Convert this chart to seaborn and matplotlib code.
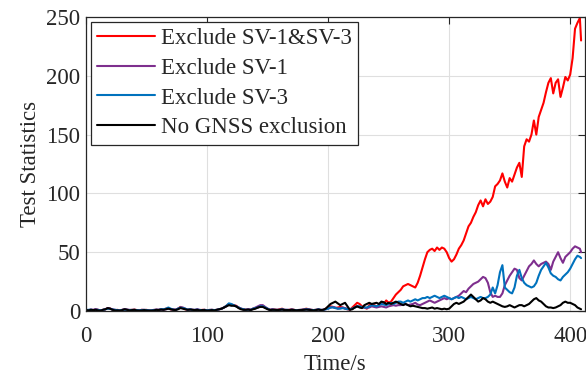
import numpy as np
import pandas as pd
import matplotlib
matplotlib.use("Agg")
import matplotlib.pyplot as plt
import seaborn as sns

time_s = np.r_[np.arange(0, 410, 2), 409]

excl_sv1_sv3 = [
    1, 0.5, 1, 0.8, 1.5, 1, 0.5, 1, 1.5, 2.5,
    2, 1, 0.5, 1, 0.5, 1, 1.5, 1, 0.8, 1,
    1.2, 0.8, 0.5, 1, 0.8, 1, 0.5, 0.3, 0.8, 1,
    1, 1.5, 1.2, 2, 2.5, 1.5, 1, 1.2, 2, 3.5,
    2.5, 1.5, 1, 1.5, 1, 0.8, 1.2, 0.5, 1, 1,
    0.5, 0.8, 1, 0.5, 1, 1.5, 2, 3, 4.5, 6,
    5.5, 5, 4.5, 3, 2, 1.5, 1, 1.5, 1, 2,
    2.5, 3, 4, 4.5, 3, 2, 1, 1.5, 1.2, 1,
    1.5, 2, 1, 0.8, 1, 1.5, 1, 0.5, 0.8, 1,
    1.5, 2, 1.5, 1, 0.8, 1, 1.5, 0.8, 1, 2,
    3, 4, 3.5, 2.5, 3, 3.5, 3, 2, 1.5, 1,
    3, 5, 7, 6, 4, 3, 2, 5, 6, 5,
    4, 5, 7, 6, 9, 7, 8, 11, 14, 16,
    18, 21, 22, 23, 22, 21, 20, 24, 30, 37,
    44, 50, 52, 53, 51, 54, 52, 54, 53, 50,
    45, 42, 44, 48, 53, 56, 60, 66, 72, 75,
    80, 84, 90, 94, 89, 95, 91, 93, 97, 106,
    108, 111, 117, 110, 105, 113, 110, 116, 122, 126,
    114, 140, 146, 144, 150, 162, 150, 165, 171, 177,
    186, 194, 198, 185, 194, 197, 182, 190, 199, 196,
    201, 215, 240, 245, 249, 230,
]

excl_sv1 = [
    1, 0.8, 1.2, 1, 1.5, 1, 0.5, 1, 1.5, 2.5,
    2, 1.5, 1, 0.8, 0.5, 1, 1.5, 1.2, 1, 0.8,
    1, 0.8, 0.5, 1, 1, 0.8, 0.5, 0.5, 1, 1.2,
    1, 1.5, 1, 1.5, 2, 1.5, 1.5, 1, 2, 3,
    3, 2, 1, 1.5, 1, 1, 1.5, 1, 0.8, 1,
    0.5, 1, 1, 0.8, 1, 1.5, 2, 3, 4, 5.5,
    5, 5, 4, 3, 2, 1.5, 1, 1.5, 1.2, 2,
    3, 4, 5, 5, 3.5, 2, 1, 1.5, 1, 1,
    1, 1.5, 1, 1, 1, 1.2, 0.8, 0.5, 1, 1,
    1.2, 1.5, 1.5, 1, 0.8, 1, 1.2, 1, 1, 1.5,
    2, 3, 3.5, 3, 2, 2.5, 3, 2.5, 2, 1.5,
    2, 3, 4, 3.5, 3, 3, 2.5, 3, 4, 3.5,
    3, 3.5, 4, 3.5, 3, 4, 4.5, 5, 4.5, 5,
    5, 5.5, 6, 5, 5.5, 6, 7, 5.5, 5, 6,
    7, 8, 9, 8, 7, 8, 9, 10, 11, 10,
    11, 10, 11, 12, 13, 15, 17, 16, 19, 21,
    23, 24, 25, 27, 29, 28, 24, 16, 12, 13,
    12, 12, 15, 22, 26, 30, 33, 36, 35, 28,
    26, 30, 34, 38, 40, 43, 40, 38, 40, 41,
    42, 40, 35, 42, 46, 50, 45, 41, 46, 48,
    50, 53, 55, 54, 53, 50,
]

excl_sv3 = [
    0.8, 1, 1.2, 0.8, 1.2, 1, 0.5, 1, 1.5, 2,
    1.8, 1.2, 1, 0.8, 0.5, 1, 1.2, 1, 0.8, 1,
    1, 0.8, 0.5, 0.8, 1, 0.8, 0.5, 0.5, 0.8, 1,
    1, 1.5, 1.5, 2, 3, 2, 1.2, 1, 2, 3,
    2.5, 2, 1.2, 1.5, 1, 1, 1.2, 0.8, 0.8, 1,
    0.5, 0.8, 1, 0.8, 1, 1.5, 2, 3, 4.5, 6.5,
    6, 5, 4, 3, 2, 1.5, 1, 1.2, 1, 2,
    2.5, 3, 4, 4, 3, 2, 1, 1.2, 1, 1,
    1, 1.5, 1, 1, 0.8, 1.2, 1, 0.5, 0.8, 1,
    1.2, 1.5, 1.2, 1, 0.8, 1, 1.5, 1, 1, 1.5,
    2, 3, 3, 2.5, 2, 2, 2.5, 2, 1.5, 1.5,
    2, 3, 4, 4, 3.5, 3, 3, 4, 5, 4.5,
    4, 5, 6, 5.5, 5, 6, 7, 6, 7, 8,
    8, 7, 8, 9, 8, 9, 10, 9, 10, 11,
    11, 12, 11, 12, 13, 12, 11, 12, 13, 12,
    11, 10, 11, 12, 11, 12, 11, 10, 11, 12,
    11, 10, 11, 12, 11, 11, 12, 14, 20, 15,
    22, 33, 39, 20, 18, 16, 15, 20, 30, 35,
    28, 24, 22, 21, 20, 21, 24, 30, 35, 38,
    41, 37, 32, 30, 29, 27, 26, 29, 31, 33,
    36, 40, 44, 47, 46, 45,
]

no_exclusion = [
    1, 0.5, 1, 0.8, 1, 0.5, 0.3, 1, 1.5, 2.5,
    2, 1, 0.5, 0.5, 0.3, 0.8, 1.5, 1, 0.5, 0.8,
    1, 0.5, 0.3, 0.5, 0.8, 0.5, 0.3, 0.3, 0.5, 1,
    0.8, 1.2, 1, 1.5, 2, 1.5, 1, 0.8, 1.5, 2.5,
    2, 1.5, 1, 1.2, 1, 0.8, 1, 0.5, 0.8, 0.8,
    0.3, 0.5, 0.8, 0.5, 1, 1.5, 2, 3, 4, 5,
    4.5, 4.5, 4, 2.5, 1.5, 1, 1, 1.2, 0.8, 1.5,
    2, 3, 3.5, 3.5, 2.5, 1.5, 0.8, 1, 1, 0.8,
    1, 1.2, 0.8, 0.8, 0.8, 1, 0.8, 0.5, 0.8, 0.8,
    1, 1.2, 1, 0.8, 0.5, 0.8, 1.2, 0.8, 1, 2,
    4, 6, 7, 8, 6.5, 5, 6, 7, 4, 1,
    1.5, 3, 4, 3, 2.5, 5, 6, 7, 6, 6.5,
    7, 6, 8, 7.5, 6, 7, 6, 7, 8, 7,
    6, 5, 6, 5, 4, 4.5, 4, 3.5, 3, 2.5,
    2.5, 2, 2.5, 3, 2, 2.5, 2, 1.5, 2, 1.5,
    2, 4, 6, 7, 6, 7, 8, 10, 12, 14,
    12, 10, 8, 9, 11, 10, 8, 7, 8, 7,
    6, 5, 4, 3.5, 4, 5, 4, 3, 4, 5,
    5, 4, 5, 6, 8, 10, 11, 9, 8, 6,
    4, 3, 3, 2.5, 3, 4, 5, 7, 8, 7,
    7, 6, 5, 3, 2, 1.5,
]

labels = ["Exclude SV-1&SV-3", "Exclude SV-1", "Exclude SV-3", "No GNSS exclusion"]
colors = ["#FF0000", "#7E2F8E", "#0072BD", "#000000"]
series = [excl_sv1_sv3, excl_sv1, excl_sv3, no_exclusion]

sns.set_theme(style="whitegrid")
plt.rcParams["font.family"] = ["Liberation Serif", "DejaVu Serif"]

fig = plt.figure(figsize=(5.86, 3.77), dpi=100)
ax = fig.add_axes([0.1468, 0.175, 0.851, 0.780])

for lab, col, vals in zip(labels, colors, series):
    df = pd.DataFrame({"t": time_s, "v": vals})
    sns.lineplot(data=df, x="t", y="v", ax=ax, color=col, linewidth=1.5, label=lab)

ax.set_xlim(0, 412)
ax.set_ylim(0, 250)
ax.set_xticks([0, 100, 200, 300, 400])
ax.set_yticks([0, 50, 100, 150, 200, 250])
fs = 16.5
ax.set_xlabel("Time/s", fontsize=fs, color="#262626", labelpad=5.5)
ax.set_ylabel("Test Statistics", fontsize=fs, color="#262626", labelpad=4)
ax.tick_params(axis="both", which="both", direction="in", length=5, width=0.8,
               labelsize=fs, colors="#262626", top=True, right=True, pad=4)
ax.tick_params(axis="x", pad=10.5)
ax.set_facecolor("white")
ax.grid(True, color="#dfdfdf", linewidth=0.8)
for sp in ax.spines.values():
    sp.set_visible(True)
    sp.set_color("#262626")
    sp.set_linewidth(0.9)

leg = ax.legend(loc="upper left", fontsize=fs, frameon=True, fancybox=False,
                edgecolor="#262626", framealpha=1, handlelength=2.5,
                handletextpad=0.25, labelspacing=0.37, borderpad=0.3,
                borderaxespad=0.2)
leg.get_frame().set_linewidth(0.9)

fig.savefig("out.png", dpi=100)
